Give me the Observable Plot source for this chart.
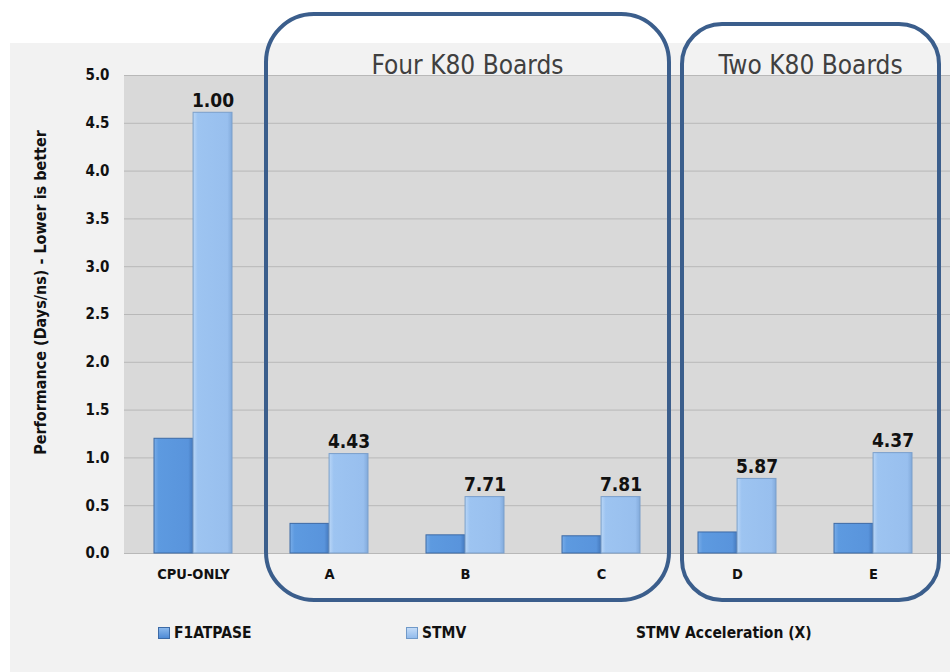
<!DOCTYPE html>
<html>
<head>
<meta charset="utf-8">
<script src="https://cdn.jsdelivr.net/npm/d3@7"></script>
<script src="https://cdn.jsdelivr.net/npm/@observablehq/plot@0.6"></script>
<style>
  html, body { margin: 0; padding: 0; background: #ffffff; }
  #wrap { position: relative; width: 950px; height: 672px; overflow: hidden; font-family: "DejaVu Sans Condensed", "DejaVu Sans", sans-serif; }
  #panel { position: absolute; left: 10px; top: 43px; right: 0; bottom: 0; background: #f2f2f2; }
  #plotbg { position: absolute; background: #d9d9d9; }
  #chart { position: absolute; left: 0; top: 0; }
  #overlay { position: absolute; left: 0; top: 0; pointer-events: none; }
  .legend { position: absolute; top: 624px; font: bold 15.5px "DejaVu Sans Condensed", "DejaVu Sans", sans-serif; color: #111; white-space: nowrap; }
  .legend .sw { display: inline-block; width: 12px; height: 12px; margin-right: 4px; vertical-align: -1px; box-sizing: border-box; }
</style>
</head>
<body>
<div id="wrap">
  <div id="panel"></div>
  <div id="plotbg"></div>
  <svg width="0" height="0" style="position:absolute">
    <defs>
      <linearGradient id="gF1" x1="0" x2="1" y1="0" y2="0">
        <stop offset="0" stop-color="#78ace8"/>
        <stop offset="0.12" stop-color="#5d9ae0"/>
        <stop offset="0.88" stop-color="#5994dc"/>
        <stop offset="1" stop-color="#4579bd"/>
      </linearGradient>
      <linearGradient id="gST" x1="0" x2="1" y1="0" y2="0">
        <stop offset="0" stop-color="#b9d6f7"/>
        <stop offset="0.12" stop-color="#9dc4f1"/>
        <stop offset="0.88" stop-color="#98bfee"/>
        <stop offset="1" stop-color="#82aadb"/>
      </linearGradient>
    </defs>
  </svg>
  <div id="chart"></div>
  <svg id="overlay" width="950" height="672"></svg>
  <div class="legend" style="left:158px"><span class="sw" style="background:linear-gradient(#8ab8ec,#4f8bd6);border:1px solid #3c6aa6"></span>F1ATPASE</div>
  <div class="legend" style="left:406px"><span class="sw" style="background:linear-gradient(#c3dbf7,#92bbec);border:1px solid #7099c8"></span>STMV</div>
  <div class="legend" style="left:636px">STMV Acceleration (X)</div>
</div>
<script>
// ---- data ----
const categories = ["CPU-ONLY", "A", "B", "C", "D", "E"];
const f1atpase = [1.20, 0.31, 0.19, 0.18, 0.22, 0.31];
const stmv = [4.61, 1.04, 0.59, 0.59, 0.78, 1.05];
const acceleration = ["1.00", "4.43", "7.71", "7.81", "5.87", "4.37"];
const yTicks = [0, 0.5, 1.0, 1.5, 2.0, 2.5, 3.0, 3.5, 4.0, 4.5, 5.0];
const groupLabels = ["Four K80 Boards", "Two K80 Boards"];
const groupStart = ["A", "D"];
const groupEnd = ["C", "E"];
const yTitle = "Performance (Days/ns) - Lower is better";

const rows = categories.map((c, i) => ({cat: c, f1: f1atpase[i], stmv: stmv[i], acc: acceleration[i]}));

const W = 950, H = 600, mL = 124, mR = 9, mT = 75, mB = 47;
const bg = document.getElementById("plotbg");
bg.style.left = mL + "px"; bg.style.top = mT + "px";
bg.style.width = (W - mL) + "px"; bg.style.height = (H - mT - mB) + "px";

const band = (W - mL - mR) / categories.length;
const outer = band * 0.213;       // gap from band edge to the pair
const half = band / 2;
const FONT = "DejaVu Sans Condensed, DejaVu Sans, sans-serif";

const plot = Plot.plot({
  width: W, height: H,
  marginLeft: mL, marginRight: 0, marginTop: mT, marginBottom: mB,
  style: {background: "transparent", fontFamily: FONT, color: "#111"},
  x: {domain: categories, range: [mL, W - mR], padding: 0, label: null, tickSize: 0, tickPadding: 15},
  y: {domain: [0, 5], ticks: yTicks, tickFormat: d3.format(".1f"), label: null, tickSize: 0, tickPadding: 15},
  marks: [
    Plot.ruleY(yTicks, {stroke: "#b8b8b8", strokeWidth: 1}),
    Plot.barY(rows, {x: "cat", y: "f1", insetLeft: outer, insetRight: half, fill: "url(#gF1)", stroke: "#3c6aa6", strokeWidth: 1}),
    Plot.barY(rows, {x: "cat", y: "stmv", insetLeft: half, insetRight: outer, fill: "url(#gST)", stroke: "#7a9fcb", strokeWidth: 1}),
    Plot.text(rows, {x: "cat", y: "stmv", text: "acc", dx: (half - outer) / 2, dy: -6, lineAnchor: "bottom", fontSize: 19, fontWeight: "bold", fill: "#111"}),
    Plot.text([yTitle], {frameAnchor: "left", dx: -(mL - 40), dy: -22, rotate: -90, textAnchor: "middle", fontSize: 16, fontWeight: "bold", fill: "#111"})
  ]
});
plot.querySelectorAll("[aria-label='x-axis tick label'] text, [aria-label='y-axis tick label'] text").forEach(t => {
  t.setAttribute("font-weight", "bold");
});
plot.querySelectorAll("[aria-label='y-axis tick label']").forEach(g => g.setAttribute("font-size", 15));
plot.querySelectorAll("[aria-label='x-axis tick label']").forEach(g => g.setAttribute("font-size", 14.5));
document.getElementById("chart").appendChild(plot);

// ---- group boxes, positioned from the x scale ----
const xs = plot.scale("x");
const ov = d3.select("#overlay");
const boxTop = [14, 24], boxRad = [48, 40], insL = [5, 13], insR = [0, -2];
groupLabels.forEach((lab, i) => {
  const x0 = xs.apply(groupStart[i]) + insL[i];
  const x1 = xs.apply(groupEnd[i]) + xs.bandwidth + insR[i];
  ov.append("rect")
    .attr("x", x0).attr("y", boxTop[i])
    .attr("width", x1 - x0).attr("height", 600 - boxTop[i])
    .attr("rx", boxRad[i]).attr("ry", boxRad[i])
    .attr("fill", "none").attr("stroke", "#3b5e8c").attr("stroke-width", 4);
  ov.append("text")
    .attr("x", (x0 + x1) / 2).attr("y", 74)
    .attr("text-anchor", "middle")
    .attr("font-family", FONT)
    .attr("font-size", 26).attr("fill", "#404040")
    .text(lab);
});
</script>
</body>
</html>
